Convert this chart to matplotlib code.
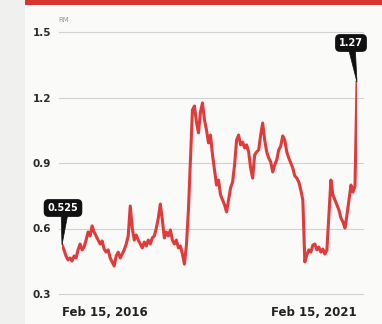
import numpy as np
import pandas as pd
import matplotlib
matplotlib.use("Agg")
import matplotlib.pyplot as plt
from matplotlib.patches import Rectangle, Polygon

# ---- data ----
start_date = "2016-02-15"
end_date = "2021-02-15"
prices = [
    0.525, 0.502, 0.474, 0.456, 0.465, 0.451, 0.474, 0.465, 0.502, 0.529,
    0.502, 0.515, 0.547, 0.584, 0.566, 0.612, 0.584, 0.566, 0.547, 0.529,
    0.543, 0.506, 0.492, 0.502, 0.465, 0.447, 0.428, 0.474, 0.492, 0.465,
    0.483, 0.502, 0.529, 0.566, 0.703, 0.602, 0.547, 0.570, 0.547, 0.529,
    0.511, 0.538, 0.520, 0.547, 0.529, 0.557, 0.566, 0.602, 0.648, 0.712,
    0.639, 0.557, 0.584, 0.566, 0.593, 0.547, 0.529, 0.547, 0.511, 0.520,
    0.483, 0.437, 0.524, 0.685, 0.914, 1.143, 1.161, 1.088, 1.038, 1.134,
    1.175, 1.097, 1.051, 0.992, 1.028, 0.937, 0.868, 0.799, 0.822, 0.754,
    0.731, 0.708, 0.676, 0.731, 0.786, 0.813, 0.891, 1.005, 1.028, 0.983,
    0.996, 0.969, 0.983, 0.951, 0.877, 0.831, 0.937, 0.951, 0.960, 1.028,
    1.083, 1.005, 0.951, 0.923, 0.905, 0.859, 0.891, 0.914, 0.960, 0.978,
    1.024, 1.005, 0.951, 0.923, 0.900, 0.877, 0.841, 0.831, 0.813, 0.776,
    0.731, 0.447, 0.479, 0.502, 0.492, 0.524, 0.529, 0.502, 0.515, 0.492,
    0.506, 0.483, 0.502, 0.662, 0.822, 0.754, 0.731, 0.708, 0.685, 0.648,
    0.630, 0.602, 0.662, 0.731, 0.799, 0.767, 0.795, 1.27,
]
y_ticks = [0.3, 0.6, 0.9, 1.2, 1.5]
x_labels = ["Feb 15, 2016", "Feb 15, 2021"]
unit_label = "RM"
first_label = "0.525"
last_label = "1.27"

dates = pd.date_range(start_date, end_date, periods=len(prices))

W, H = 382, 324
fig = plt.figure(figsize=(W / 100, H / 100), dpi=100)
fig.patch.set_facecolor("#fafaf8")

# left light strip and top red bar
fig.add_artist(Rectangle((0, 0), 25 / W, 1, transform=fig.transFigure,
                         facecolor="#f0f0ee", edgecolor="none", zorder=0))
fig.add_artist(Rectangle((25 / W, 1 - 5 / H), 1 - 25 / W, 5 / H, transform=fig.transFigure,
                         facecolor="#d9352f", edgecolor="none", zorder=1))

# axes: data spans x 62..357 px, y 0.3 at 294 px, 1.5 at 32 px
left_px, right_px = 62, 357
ax = fig.add_axes([left_px / W, 1 - 294 / H, (right_px - left_px) / W, (294 - 32) / H])
ax.set_facecolor("none")
ax.set_ylim(0.3, 1.5)
ax.set_xlim(dates[0], dates[-1])

# gridlines slightly wider than data
for v in y_ticks:
    ax.plot([-0.01, 1.02], [v, v], transform=ax.get_yaxis_transform(),
            color="#d2d2d2", lw=0.8, clip_on=False, zorder=1)

ax.plot(dates, prices, color="#e03a3a", lw=2.2, solid_joinstyle="round", zorder=3)

for s in ax.spines.values():
    s.set_visible(False)
ax.set_xticks([])
ax.set_yticks(y_ticks)
ax.set_yticklabels([f"{v:.1f}" for v in y_ticks], fontsize=7.5, fontweight="bold",
                   color="#2a2a2a")
ax.tick_params(axis="y", length=0, pad=8)

# RM unit
ax.text(-0.012, 1.5 + 0.04, unit_label, transform=ax.get_yaxis_transform(),
        fontsize=5, color="#9a9a9a", ha="left", va="bottom")

# x labels
ax.text(0.0, -0.045, x_labels[0], transform=ax.transAxes, ha="left", va="top",
        fontsize=8.5, fontweight="bold", color="#222222")
ax.text(1.0, -0.045, x_labels[1], transform=ax.transAxes, ha="right", va="top",
        fontsize=8.5, fontweight="bold", color="#222222")

# callouts
def callout(x_pt, y_pt, box_cx, box_cy, text, tail_dx):
    disp = ax.transData.transform((matplotlib.dates.date2num(x_pt), y_pt))
    fx, fy = fig.transFigure.inverted().transform(disp)
    fig.text(box_cx, box_cy, text, ha="center", va="center", fontsize=7,
             fontweight="bold", color="white", zorder=6,
             bbox=dict(boxstyle="round,pad=0.4,rounding_size=0.5",
                       facecolor="#111111", edgecolor="none"))
    tail = Polygon([(box_cx + tail_dx - 4 / W, box_cy), (box_cx + tail_dx + 4 / W, box_cy),
                    (fx, fy)], closed=True, transform=fig.transFigure,
                   facecolor="#111111", edgecolor="#111111", lw=0.5, zorder=5)
    fig.add_artist(tail)

callout(dates[0], prices[0], 63 / W, 1 - 208 / H, first_label, 2 / W)
callout(dates[-1], prices[-1], 351 / W, 1 - 43 / H, last_label, 0 / W)

fig.savefig("out.png", dpi=100, facecolor=fig.get_facecolor())
